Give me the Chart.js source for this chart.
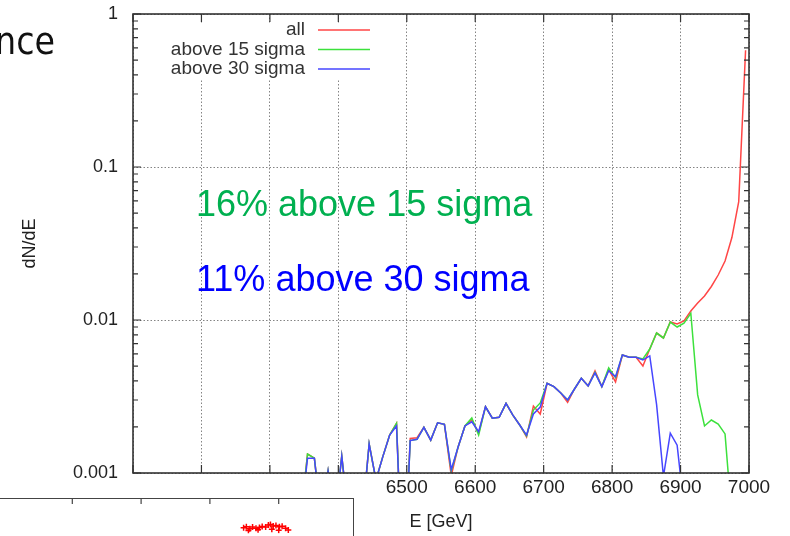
<!DOCTYPE html>
<html>
<head>
<meta charset="utf-8">
<title>dN/dE</title>
<script src="https://cdn.jsdelivr.net/npm/chart.js@4.4.1/dist/chart.umd.min.js"></script>
<style>
  html, body { margin: 0; padding: 0; background: #fff; }
  #wrap { position: relative; width: 790px; height: 536px; overflow: hidden;
          font-family: "Liberation Sans", Arial, sans-serif; }
  #main { position: absolute; left: 0; top: 0; width: 790px; height: 536px; }
  .note { position: absolute; left: 196px; font-size: 36px; line-height: 1; white-space: nowrap; }
  #word { position: absolute; right: 735px; top: 23px; font-family: "DejaVu Sans Condensed", "DejaVu Sans", sans-serif;
          font-size: 37px; line-height: 1; color: #111; white-space: nowrap; }
  #inset { position: absolute; left: -2px; top: 498px; width: 355px; height: 40px; background: #fff;
           border-top: 1.5px solid #444; border-right: 1.5px solid #444; }
</style>
</head>
<body>
<div id="wrap">
  <div id="main"><canvas id="spectrum"></canvas></div>
  <div id="word">nce</div>
  <div class="note" style="top:186px;color:#00b050">16% above 15 sigma</div>
  <div class="note" style="top:261px;color:#0000ff">11% above 30 sigma</div>
  <div id="inset"><canvas id="insetChart"></canvas></div>
</div>
<script>
// bin centres, 10 GeV bins
const energies = [
  6105, 6115, 6125, 6135, 6145, 6155, 6165, 6175, 6185, 6195,
  6205, 6215, 6225, 6235, 6245, 6255, 6265, 6275, 6285, 6295,
  6305, 6315, 6325, 6335, 6345, 6355, 6365, 6375, 6385, 6395,
  6405, 6415, 6425, 6435, 6445, 6455, 6465, 6475, 6485, 6495,
  6505, 6515, 6525, 6535, 6545, 6555, 6565, 6575, 6585, 6595,
  6605, 6615, 6625, 6635, 6645, 6655, 6665, 6675, 6685, 6695,
  6705, 6715, 6725, 6735, 6745, 6755, 6765, 6775, 6785, 6795,
  6805, 6815, 6825, 6835, 6845, 6855, 6865, 6875, 6885, 6895,
  6905, 6915, 6925, 6935, 6945, 6955, 6965, 6975, 6985, 6995
];

// dN/dE, all particles
const allVals = [
  0.0005, 0.0005, 0.0005, 0.0005, 0.0005, 0.0005, 0.0005, 0.0005, 0.0005, 0.0005,
  0.0005, 0.0005, 0.0005, 0.0005, 0.0005, 0.0005, 0.0005, 0.0005, 0.0005, 0.0005,
  0.0005, 0.0005, 0.0005, 0.0005, 0.0005, 0.00133, 0.00125, 0.0005, 0.00103, 0.0005,
  0.00129, 0.0005, 0.0005, 0.0005, 0.00155, 0.0009, 0.00128, 0.00177, 0.00211, 0.00016,
  0.00168, 0.0017, 0.00199, 0.00164, 0.00213, 0.00208, 0.00096, 0.00148, 0.00203, 0.00222,
  0.00182, 0.00271, 0.00228, 0.00231, 0.00285, 0.00239, 0.00206, 0.00172, 0.00274, 0.00243,
  0.00386, 0.00367, 0.00333, 0.0029, 0.00354, 0.00416, 0.00371, 0.00466, 0.00367, 0.00475,
  0.00394, 0.00591, 0.00571, 0.00571, 0.005, 0.00646, 0.00822, 0.00763, 0.0097, 0.00942,
  0.00985, 0.01145, 0.0129, 0.01435, 0.01656, 0.01968, 0.0243, 0.0346, 0.0594, 0.58
];

// above 15 sigma
const above15 = [
  0.0005, 0.0005, 0.0005, 0.0005, 0.0005, 0.0005, 0.0005, 0.0005, 0.0005, 0.0005,
  0.0005, 0.0005, 0.0005, 0.0005, 0.0005, 0.0005, 0.0005, 0.0005, 0.0005, 0.0005,
  0.0005, 0.0005, 0.0005, 0.0005, 0.0005, 0.00133, 0.00125, 0.0005, 0.00103, 0.0005,
  0.00129, 0.0005, 0.0005, 0.0005, 0.00155, 0.0009, 0.00128, 0.00177, 0.00211, 0.00016,
  0.00163, 0.00166, 0.00199, 0.00164, 0.00213, 0.00208, 0.00103, 0.00148, 0.00203, 0.00229,
  0.00177, 0.00271, 0.00228, 0.00231, 0.00285, 0.00239, 0.00206, 0.00175, 0.00258, 0.00287,
  0.00386, 0.00367, 0.00333, 0.003, 0.00354, 0.00416, 0.00371, 0.00455, 0.00367, 0.00486,
  0.0042, 0.00591, 0.00571, 0.00571, 0.00556, 0.00646, 0.00822, 0.00763, 0.0097, 0.009,
  0.00955, 0.01106, 0.00324, 0.00203, 0.00222, 0.00209, 0.0018, 0.0005, 0.0005, 0.0005
];

// above 30 sigma
const above30 = [
  0.0005, 0.0005, 0.0005, 0.0005, 0.0005, 0.0005, 0.0005, 0.0005, 0.0005, 0.0005,
  0.0005, 0.0005, 0.0005, 0.0005, 0.0005, 0.0005, 0.0005, 0.0005, 0.0005, 0.0005,
  0.0005, 0.0005, 0.0005, 0.0005, 0.0005, 0.00125, 0.00125, 0.0005, 0.00103, 0.0005,
  0.00129, 0.0005, 0.0005, 0.0005, 0.00155, 0.0009, 0.00128, 0.00177, 0.00203, 0.00016,
  0.00163, 0.00166, 0.00199, 0.00164, 0.00213, 0.00208, 0.00105, 0.00148, 0.00203, 0.00216,
  0.00186, 0.00271, 0.00228, 0.00231, 0.00285, 0.00239, 0.00206, 0.00177, 0.00243, 0.0027,
  0.00386, 0.00367, 0.00333, 0.003, 0.00354, 0.00416, 0.00371, 0.00451, 0.00367, 0.00466,
  0.00426, 0.00591, 0.00571, 0.00571, 0.00548, 0.00582, 0.0028, 0.00095, 0.00182, 0.00152,
  0.0006, 0.0003, 0.0003, 0.0003, 0.0003, 0.0003, 0.0003, 0.0003, 0.0003, 0.0003
];

const seriesNames = ["all", "above 15 sigma", "above 30 sigma"];
const seriesColors = ["rgb(255,70,70)", "rgb(60,225,60)", "rgb(70,70,255)"];

const xTickValues = [6100, 6200, 6300, 6400, 6500, 6600, 6700, 6800, 6900, 7000];
const xTickLabels = ["", "", "", "", "6500", "6600", "6700", "6800", "6900", "7000"];
const yTickValues = [0.001, 0.01, 0.1, 1];
const yTickLabels = ["0.001", "0.01", "0.1", "1"];

// fragment of the plot below (red marks)
const insetX = [3.49, 3.53, 3.58, 3.62, 3.67, 3.72, 3.76, 3.81, 3.85, 3.88,
                3.92, 3.96, 4.01, 4.05, 4.10, 4.14, 3.56, 3.70, 3.90, 4.00];
const insetY = [2.0, 2.3, 1.6, 2.2, 1.8, 2.1, 2.4, 2.2, 2.9, 3.1,
                2.6, 2.8, 2.3, 2.5, 1.8, 1.2, 1.0, 1.3, 1.5, 1.1];
const insetTicks = [1, 2, 3, 4];

Chart.defaults.font.family = "'Liberation Sans', Arial, sans-serif";
Chart.defaults.color = "#222";

const toPoints = vals => energies.map((e, i) => ({ x: e, y: vals[i] }));

// gnuplot style key: text right aligned, sample to the right, opaque box
const keyPlugin = {
  id: "gnuKey",
  beforeDatasetsDraw(chart) {
    const ctx = chart.ctx;
    ctx.save();
    ctx.fillStyle = "#fff";
    ctx.fillRect(166, 23, 212, 56);
    ctx.restore();
  },
  afterDatasetsDraw(chart) {
    const ctx = chart.ctx;
    ctx.save();
    ctx.font = "19px 'Liberation Sans', Arial, sans-serif";
    ctx.textAlign = "right";
    ctx.textBaseline = "middle";
    chart.data.datasets.forEach((ds, i) => {
      const yy = 30 + 19.5 * i;
      ctx.fillStyle = "#333";
      ctx.fillText(ds.label, 305, yy);
      ctx.strokeStyle = ds.borderColor;
      ctx.lineWidth = 1.5;
      ctx.beginPath();
      ctx.moveTo(318, yy);
      ctx.lineTo(370, yy);
      ctx.stroke();
    });
    ctx.restore();
  }
};

// frame with inward ticks on all four sides, log minor ticks
const framePlugin = {
  id: "frame",
  afterDatasetsDraw(chart) {
    const { ctx, chartArea: a, scales: { x, y } } = chart;
    ctx.save();
    ctx.strokeStyle = "#333";
    ctx.lineWidth = 1.2;
    ctx.beginPath();
    xTickValues.forEach(v => {
      const px = x.getPixelForValue(v);
      ctx.moveTo(px, a.bottom); ctx.lineTo(px, a.bottom - 8);
      ctx.moveTo(px, a.top); ctx.lineTo(px, a.top + 8);
    });
    for (let d = -3; d <= 0; d++) {
      for (let m = 1; m <= 9; m++) {
        const v = m * Math.pow(10, d);
        if (v > 1.0001) break;
        const py = y.getPixelForValue(v);
        const len = m === 1 ? 8 : 5;
        ctx.moveTo(a.left, py); ctx.lineTo(a.left + len, py);
        ctx.moveTo(a.right, py); ctx.lineTo(a.right - len, py);
      }
    }
    ctx.stroke();
    ctx.lineWidth = 1.6;
    ctx.strokeRect(a.left, a.top, a.right - a.left, a.bottom - a.top);
    ctx.restore();
  }
};

new Chart(document.getElementById("spectrum"), {
  type: "line",
  data: {
    datasets: [allVals, above15, above30].map((vals, i) => ({
      label: seriesNames[i],
      data: toPoints(vals),
      borderColor: seriesColors[i],
      borderWidth: 1.5,
      pointRadius: 0,
      tension: 0,
      fill: false,
      order: 3 - i
    }))
  },
  options: {
    responsive: true,
    maintainAspectRatio: false,
    animation: false,
    layout: { padding: { left: 0, right: 41, top: 14, bottom: 0 } },
    plugins: { legend: { display: false }, tooltip: { enabled: false } },
    scales: {
      x: {
        type: "linear",
        min: 6100,
        max: 7000,
        afterBuildTicks: s => { s.ticks = xTickValues.map(v => ({ value: v })); },
        afterFit: s => { s.height = 63; },
        ticks: {
          font: { size: 19 },
          padding: 3,
          maxRotation: 0,
          autoSkip: false,
          callback: v => xTickLabels[xTickValues.indexOf(v)]
        },
        grid: { color: "rgba(110,110,110,0.85)", lineWidth: 1, drawTicks: false },
        border: { display: false, dash: [1.5, 2] },
        title: { display: true, text: "E [GeV]", font: { size: 18 }, padding: { top: 0, bottom: 3 } }
      },
      y: {
        type: "logarithmic",
        min: 0.001,
        max: 1,
        afterBuildTicks: s => { s.ticks = yTickValues.map(v => ({ value: v })); },
        afterFit: s => { s.width = 133; },
        ticks: {
          font: { size: 18 },
          padding: 0,
          autoSkip: false,
          callback: v => yTickLabels[yTickValues.indexOf(v)]
        },
        grid: {
          color: "rgba(110,110,110,0.85)", lineWidth: 1,
          drawTicks: true, tickLength: 15, tickColor: "rgba(0,0,0,0)"
        },
        border: { display: false, dash: [1.5, 2] },
        title: { display: true, text: "dN/dE", font: { size: 18 }, padding: { top: 19, bottom: 0 } }
      }
    }
  },
  plugins: [keyPlugin, framePlugin]
});

// top ticks of the lower plot
const insetFrame = {
  id: "insetFrame",
  afterDraw(chart) {
    const { ctx, scales: { x } } = chart;
    ctx.save();
    ctx.strokeStyle = "#444";
    ctx.lineWidth = 1.2;
    ctx.beginPath();
    insetTicks.forEach(v => {
      const px = x.getPixelForValue(v);
      ctx.moveTo(px, 0); ctx.lineTo(px, 5);
    });
    ctx.stroke();
    ctx.restore();
  }
};

new Chart(document.getElementById("insetChart"), {
  type: "scatter",
  data: {
    datasets: [{
      data: insetX.map((v, i) => ({ x: v, y: insetY[i] })),
      pointStyle: "cross",
      pointRadius: 3,
      borderColor: "#ff0000",
      borderWidth: 1.5
    }]
  },
  options: {
    responsive: true,
    maintainAspectRatio: false,
    animation: false,
    layout: { padding: 0 },
    plugins: { legend: { display: false }, tooltip: { enabled: false } },
    scales: {
      x: { display: false, min: 0, max: 5 },
      y: { display: false, min: 0, max: 10 }
    }
  },
  plugins: [insetFrame]
});
</script>
</body>
</html>
